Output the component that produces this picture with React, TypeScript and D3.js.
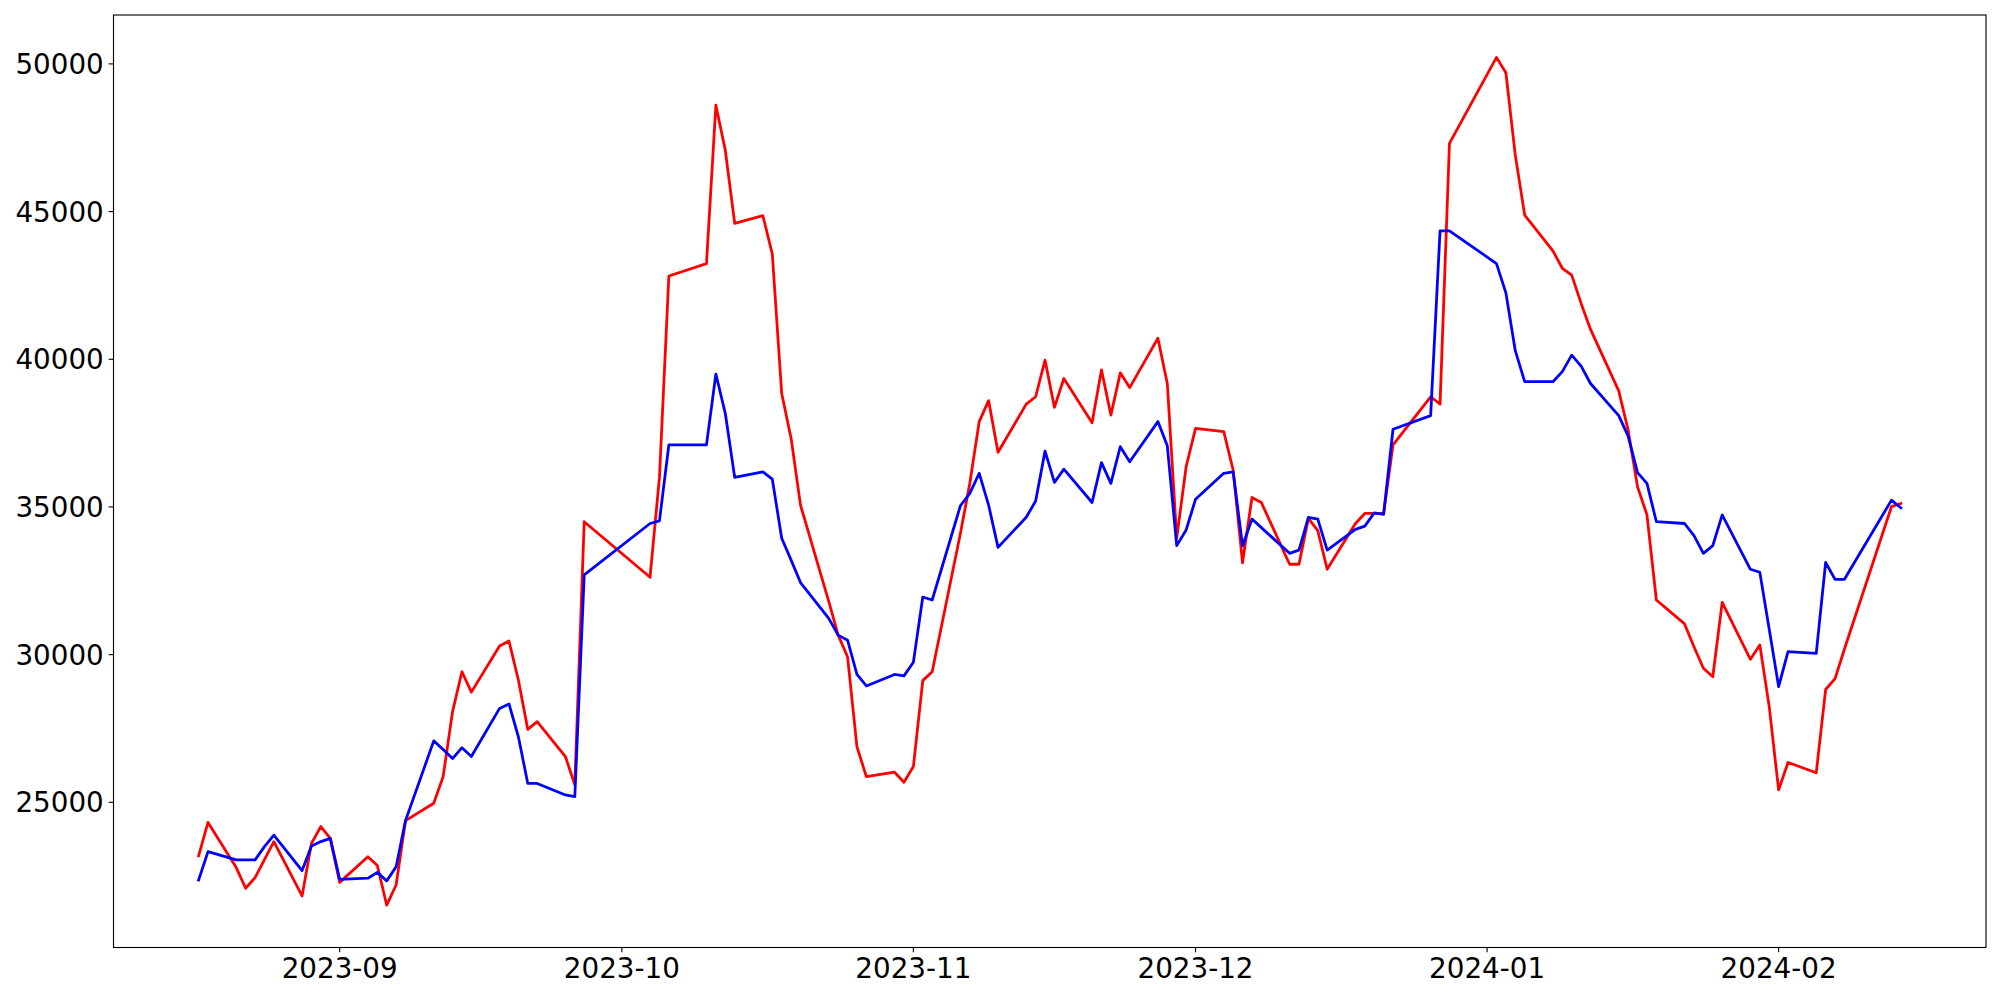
import React from "react";
import * as d3 from "d3";

const dates: string[] = [
  "2023-08-17","2023-08-18","2023-08-21","2023-08-22","2023-08-23","2023-08-24","2023-08-25",
  "2023-08-28","2023-08-29","2023-08-30","2023-08-31","2023-09-01",
  "2023-09-04","2023-09-05","2023-09-06","2023-09-07","2023-09-08",
  "2023-09-11","2023-09-12","2023-09-13","2023-09-14","2023-09-15",
  "2023-09-18","2023-09-19","2023-09-20","2023-09-21","2023-09-22",
  "2023-09-25","2023-09-26","2023-09-27",
  "2023-10-04","2023-10-05","2023-10-06",
  "2023-10-10","2023-10-11","2023-10-12","2023-10-13",
  "2023-10-16","2023-10-17","2023-10-18","2023-10-19","2023-10-20",
  "2023-10-23","2023-10-24","2023-10-25","2023-10-26","2023-10-27",
  "2023-10-30","2023-10-31","2023-11-01","2023-11-02","2023-11-03",
  "2023-11-06","2023-11-07","2023-11-08","2023-11-09","2023-11-10",
  "2023-11-13","2023-11-14","2023-11-15","2023-11-16","2023-11-17",
  "2023-11-20","2023-11-21","2023-11-22","2023-11-23","2023-11-24",
  "2023-11-27","2023-11-28","2023-11-29","2023-11-30","2023-12-01",
  "2023-12-04","2023-12-05","2023-12-06","2023-12-07","2023-12-08",
  "2023-12-11","2023-12-12","2023-12-13","2023-12-14","2023-12-15",
  "2023-12-18","2023-12-19","2023-12-20","2023-12-21","2023-12-22",
  "2023-12-26","2023-12-27","2023-12-28",
  "2024-01-02","2024-01-03","2024-01-04","2024-01-05",
  "2024-01-08","2024-01-09","2024-01-10","2024-01-11","2024-01-12",
  "2024-01-15","2024-01-16","2024-01-17","2024-01-18","2024-01-19",
  "2024-01-22","2024-01-23","2024-01-24","2024-01-25","2024-01-26",
  "2024-01-29","2024-01-30","2024-01-31","2024-02-01","2024-02-02",
  "2024-02-05","2024-02-06","2024-02-07","2024-02-08",
  "2024-02-13","2024-02-14",
];

const redValues: number[] = [
  23190, 24320, 22790, 22090, 22450, 23060, 23670, 21830, 23610, 24180, 23780,
  22290, 23160, 22860, 21520, 22200, 24380, 24970, 25870, 28070, 29420, 28730,
  30290, 30460, 29140, 27470, 27730, 26550, 25590, 34500,
  32620, 36000, 42820, 43240, 48600, 47080, 44600, 44860, 43560, 38840, 37320, 35060,
  31800, 30660, 29930, 26880, 25870, 26020, 25680,
  26210, 29120, 29420, 34100, 35800, 37890, 38600, 36850,
  38480, 38730, 39970, 38370, 39350, 37850, 39640, 38110, 39540, 39040,
  40710, 39180, 33940, 36360,
  37660, 37550, 36250, 33110, 35320, 35150, 33060, 33060, 34610, 34200, 32890,
  34440, 34780, 34780, 34780, 37100, 38730, 38480, 47310,
  50220, 49700, 46910, 44880, 43670, 43080, 42850, 41890, 41010,
  38930, 37600, 35680, 34730, 31850, 31040, 30270, 29540, 29250, 31770,
  29840, 30330, 28240,
  25420, 26350, 26000, 28820, 29190, 30190, 35010, 35120,
];

const blueValues: number[] = [
  22370, 23330, 23050, 23050, 23050, 23500, 23890, 22690, 23520, 23670, 23780,
  22390, 22430, 22630, 22340, 22820, 24380, 27080, 26790, 26480, 26850, 26550,
  28180, 28330, 27220, 25640, 25640, 25250, 25190, 32700,
  34440, 34530, 37100, 37100, 39500, 38170, 36000, 36190, 35940, 33940, 33200, 32440,
  31230, 30660, 30490, 29330, 28940, 29330, 29280,
  29740, 31950, 31850, 35040, 35460, 36140, 35060, 33630,
  34650, 35200, 36890, 35830, 36280, 35150, 36500, 35800, 37040, 36530,
  37890, 37070, 33690, 34220,
  35260, 36140, 36190, 33680, 34590, 34300, 33430, 33540, 34650, 34590, 33540,
  34240, 34350, 34800, 34750, 37630, 38090, 44350, 44350,
  43240, 42250, 40290, 39240, 39240, 39580, 40140, 39770, 39180,
  38090, 37400, 36160, 35800, 34500, 34440, 34030, 33430, 33690, 34730,
  32890, 32790, 30860,
  28920, 30100, 30040, 33120, 32550, 32550, 35230, 34970,
];

const yTickValues: number[] = [25000, 30000, 35000, 40000, 45000, 50000];

const W = 2000;
const H = 1000;
const LEFT = 113.5;
const RIGHT = 1986;
const TOP = 15;
const BOTTOM = 947.5;
const FONT = "'DejaVu Sans', sans-serif";
const FS = 27.78;

export default function App() {
  const parse = d3.timeParse("%Y-%m-%d");
  const parsed = dates.map((d) => parse(d) as Date);

  const [x0, x1] = d3.extent(parsed) as [Date, Date];
  const xPad = (x1.getTime() - x0.getTime()) * 0.05;
  const x = d3
    .scaleTime()
    .domain([new Date(x0.getTime() - xPad), new Date(x1.getTime() + xPad)])
    .range([LEFT, RIGHT]);

  const all = redValues.concat(blueValues);
  const yMin = d3.min(all) as number;
  const yMax = d3.max(all) as number;
  const yPad = (yMax - yMin) * 0.05;
  const y = d3.scaleLinear().domain([yMin - yPad, yMax + yPad]).range([BOTTOM, TOP]);

  const line = d3
    .line<number>()
    .x((_, i) => x(parsed[i]))
    .y((v) => y(v));

  const xTicks = d3.timeMonth.range(x.domain()[0], x.domain()[1]);
  const fmt = d3.timeFormat("%Y-%m");

  return (
    <svg
      width={W}
      height={H}
      style={{ position: "absolute", left: 0, top: 0, background: "#fff" }}
      fontFamily={FONT}
    >
      <rect x={0} y={0} width={W} height={H} fill="#fff" />
      <path d={line(redValues) || ""} fill="none" stroke="#ff0000" strokeWidth={2.78} strokeLinejoin="round" strokeLinecap="square" />
      <path d={line(blueValues) || ""} fill="none" stroke="#0000ff" strokeWidth={2.78} strokeLinejoin="round" strokeLinecap="square" />
      <rect x={LEFT} y={TOP} width={RIGHT - LEFT} height={BOTTOM - TOP} fill="none" stroke="#000" strokeWidth={1.11} />
      {yTickValues.map((v) => (
        <g key={v}>
          <line x1={LEFT - 4.86} x2={LEFT} y1={y(v)} y2={y(v)} stroke="#000" strokeWidth={1.11} />
          <text x={LEFT - 9.72} y={y(v)} dy="0.36em" textAnchor="end" fontSize={FS} fill="#000">
            {v}
          </text>
        </g>
      ))}
      {xTicks.map((t) => (
        <g key={t.getTime()}>
          <line x1={x(t)} x2={x(t)} y1={BOTTOM} y2={BOTTOM + 4.86} stroke="#000" strokeWidth={1.11} />
          <text x={x(t)} y={BOTTOM + 30.5} textAnchor="middle" fontSize={FS} fill="#000">
            {fmt(t)}
          </text>
        </g>
      ))}
    </svg>
  );
}
